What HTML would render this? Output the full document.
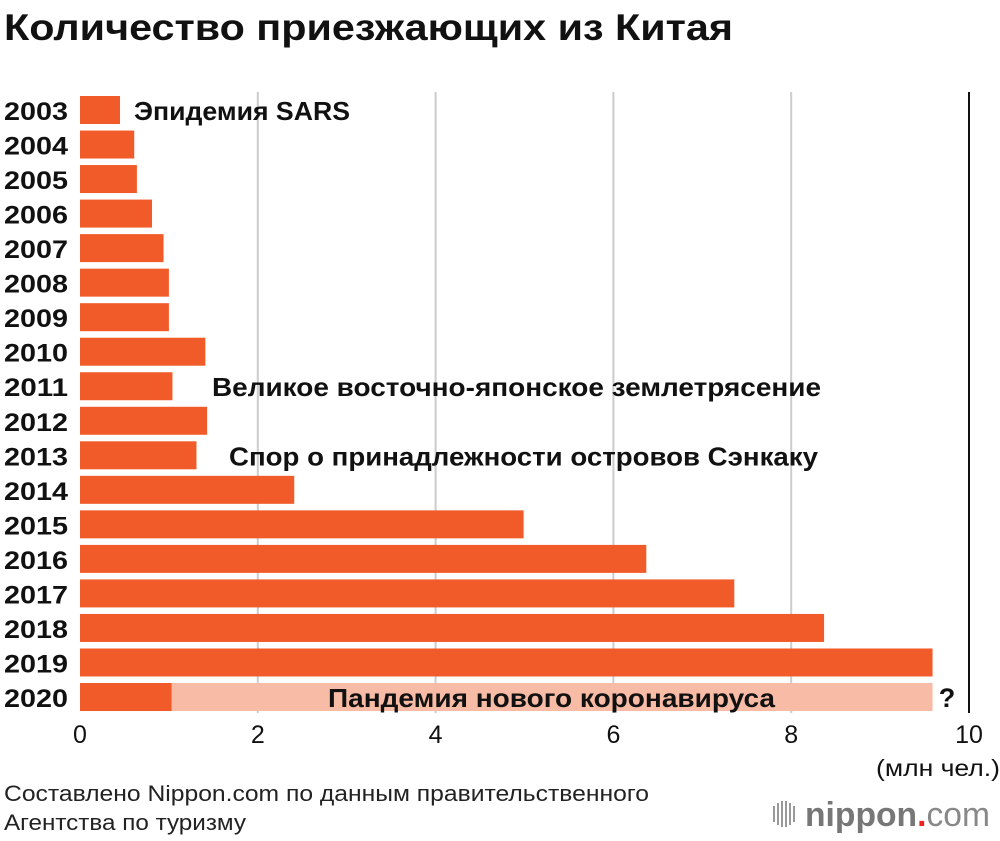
<!DOCTYPE html>
<html><head><meta charset="utf-8"><style>
body{margin:0;background:#fff;width:1000px;height:836px;overflow:hidden;font-family:"Liberation Sans","DejaVu Sans",sans-serif;}
</style></head><body>
<svg id="c" width="1000" height="836" xmlns="http://www.w3.org/2000/svg">
<text x="4" y="40" font-size="37" font-weight="bold" fill="#111" textLength="729" lengthAdjust="spacingAndGlyphs">Количество приезжающих из Китая</text>
<g id="grid"></g><g id="bars"></g><g id="labels"></g>
<text x="1000" y="776" text-anchor="end" font-size="23" fill="#111" textLength="124" lengthAdjust="spacingAndGlyphs">(млн чел.)</text>
<text x="4" y="801" font-size="22" fill="#222" textLength="645" lengthAdjust="spacingAndGlyphs">Составлено Nippon.com по данным правительственного</text>
<text x="4" y="830" font-size="22" fill="#222" textLength="242" lengthAdjust="spacingAndGlyphs">Агентства по туризму</text>
<g>
<g fill="#999"><rect x="773" y="806" width="2" height="16"/><rect x="777" y="803" width="2" height="22"/><rect x="781" y="801" width="2" height="26"/><rect x="785" y="801" width="2" height="26"/><rect x="789" y="803" width="2" height="22"/><rect x="793" y="806" width="2" height="16"/></g>
<text x="805" y="826" font-size="34" fill="#777" font-weight="bold" textLength="185" lengthAdjust="spacingAndGlyphs">nippon<tspan fill="#e22">.</tspan><tspan font-weight="normal" fill="#888">com</tspan></text>
</g>
</svg>
<script>
const years=["2003","2004","2005","2006","2007","2008","2009","2010","2011","2012","2013","2014","2015","2016","2017","2018","2019","2020"];
const visitors=[0.45,0.61,0.64,0.81,0.94,1.0,1.0,1.41,1.04,1.43,1.31,2.41,4.99,6.37,7.36,8.37,9.59,1.03];
const projected2020=9.59;
const xTicks=[0,2,4,6,8,10];
const x=v=>80+v*88.9;
const y=i=>96+i*34.53;
const NS="http://www.w3.org/2000/svg";
function mk(t,a,p){const e=document.createElementNS(NS,t);for(const k in a)e.setAttribute(k,a[k]);p.appendChild(e);return e;}
const grid=document.getElementById('grid'),bars=document.getElementById('bars'),labels=document.getElementById('labels');
xTicks.forEach(t=>{
 if(t>0){const l=mk('line',{x1:x(t),x2:x(t),y1:92,y2:713,stroke:t===10?'#111':'#ccc','stroke-width':2},grid);
 
 }
 const tx=mk('text',{x:x(t),y:743,'text-anchor':'middle','font-size':25,fill:'#111'},grid);tx.textContent=t;
 
 
});
years.forEach((yr,i)=>{
 if(yr==="2020"){const pb=mk('rect',{x:x(0),y:y(i),width:x(projected2020)-x(0),height:28,fill:'#f8bba5'},bars);
 
 }
 const r=mk('rect',{x:x(0),y:y(i),width:x(visitors[i])-x(0),height:28,fill:'#f15a29'},bars);
 
 
 const t=mk('text',{x:4,y:y(i)+24,'font-size':25,'font-weight':'bold',fill:'#111',textLength:64,lengthAdjust:'spacingAndGlyphs'},labels);t.textContent=yr;
 
 
});
const notes=[[0,134,"Эпидемия SARS",216],[8,212,"Великое восточно-японское землетрясение",609],[10,229,"Спор о принадлежности островов Сэнкаку",589],[17,328,"Пандемия нового коронавируса",447]];
notes.forEach(n=>{const t=mk('text',{x:n[1],y:y(n[0])+24,'font-size':26,'font-weight':'bold',fill:'#111',textLength:n[3],lengthAdjust:'spacingAndGlyphs'},labels);t.textContent=n[2];
 
 });
const q=mk('text',{x:947,y:y(17)+24,'text-anchor':'middle','font-size':27,'font-weight':'bold',fill:'#111'},labels);q.textContent='?';


</script>
</body></html>
